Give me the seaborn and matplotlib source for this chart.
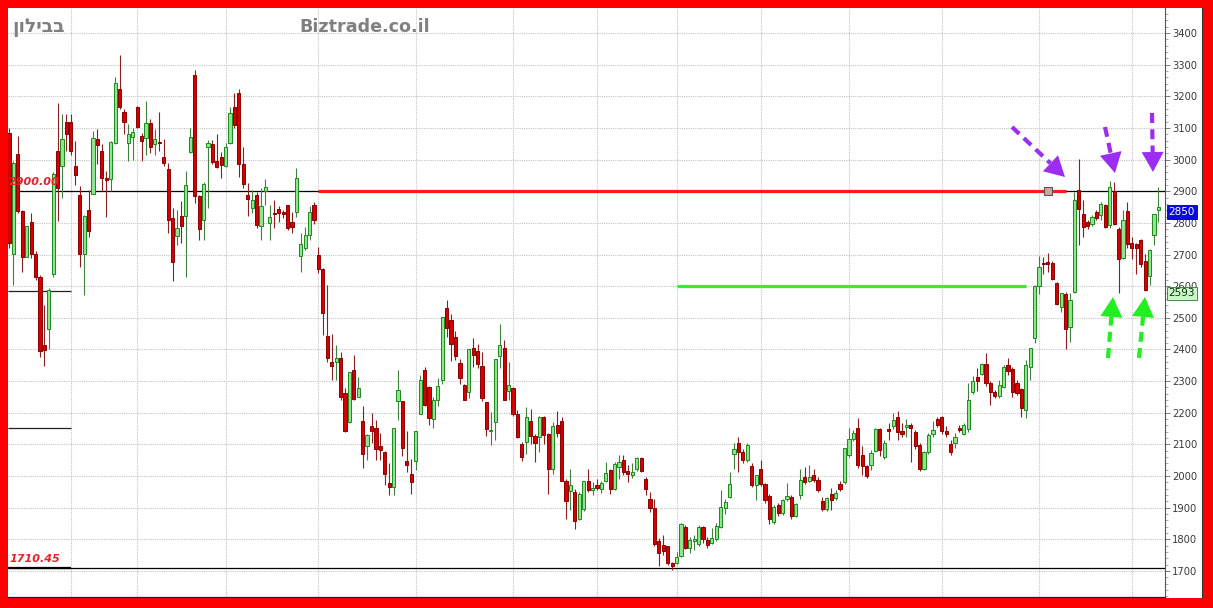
import matplotlib
matplotlib.use("Agg")
import matplotlib.pyplot as plt
from matplotlib.patches import Rectangle, Polygon
from matplotlib.lines import Line2D
import numpy as np
import pandas as pd
import seaborn as sns

# OHLC, one entry per daily candle
opens = [3085, 2701, 3018, 2837, 2692, 2803, 2701, 2630, 2413, 2466, 2638, 3027, 2979, 3119, 3119, 2979, 2889, 2701, 2842, 2892,
         3064, 3027, 2942, 2939, 3053, 3223, 3149, 3053, 3071, 3167, 3075, 3069, 3117, 3048, 3055, 3008, 2971, 2815, 2759, 2821,
         2821, 3025, 3267, 2884, 2809, 3039, 3050, 2996, 3007, 2980, 3052, 3165, 3210, 2986, 2888, 2846, 2888, 2790, 2902, 2801,
         2831, 2843, 2833, 2855, 2804, 2836, 2696, 2722, 2762, 2857, 2699, 2654, 2443, 2359, 2362, 2374, 2262, 2170, 2336, 2251,
         2175, 2096, 2157, 2151, 2096, 2075, 1978, 1967, 2236, 2236, 2048, 2007, 2047, 2195, 2336, 2281, 2181, 2241, 2304, 2532,
         2494, 2441, 2357, 2289, 2265, 2405, 2394, 2349, 2234, 2142, 2170, 2381, 2405, 2268, 2279, 2197, 2100, 2107, 2173, 2128,
         2125, 2186, 2134, 2023, 2163, 2174, 1986, 1952, 1949, 1863, 1897, 1984, 1957, 1973, 1960, 1984, 2020, 1960, 2030, 2051,
         2017, 2003, 2021, 2058, 1990, 1929, 1900, 1796, 1781, 1779, 1724, 1724, 1747, 1840, 1772, 1795, 1787, 1840, 1798, 1789,
         1800, 1840, 1898, 1935, 2070, 2105, 2077, 2050, 2032, 1972, 2021, 1975, 1937, 1856, 1908, 1884, 1929, 1935, 1874, 1940,
         1998, 1984, 2003, 1989, 1922, 1895, 1945, 1930, 1976, 1980, 2067, 2117, 2152, 2067, 2031, 2036, 2078, 2148, 2060, 2148,
         2157, 2188, 2144, 2154, 2162, 2138, 2097, 2022, 2075, 2133, 2180, 2186, 2141, 2102, 2106, 2151, 2134, 2148, 2267, 2313,
         2323, 2355, 2294, 2267, 2252, 2283, 2352, 2338, 2294, 2275, 2209, 2346, 2436, 2600, 2673, 2678, 2672, 2611, 2533, 2575,
         2472, 2582, 2905, 2827, 2803, 2796, 2835, 2824, 2856, 2793, 2900, 2782, 2690, 2837, 2735, 2733, 2747, 2680, 2632, 2761,
         2840]
highs = [3100, 2995, 3075, 2840, 2789, 2831, 2710, 2635, 2540, 2593, 2960, 3180, 3143, 3143, 3143, 3059, 2916, 2826, 2905, 3090,
         3096, 3048, 2963, 3059, 3260, 3329, 3159, 3112, 3101, 3170, 3085, 3186, 3127, 3096, 3149, 3064, 2990, 2847, 2842, 2868,
         2963, 3101, 3283, 2889, 2930, 3062, 3062, 3081, 3025, 3052, 3167, 3210, 3222, 3039, 2927, 2904, 2899, 2910, 2938, 2857,
         2873, 2852, 2841, 2857, 2836, 2973, 2767, 2788, 2854, 2867, 2725, 2657, 2604, 2449, 2415, 2393, 2278, 2330, 2383, 2314,
         2220, 2132, 2199, 2178, 2135, 2078, 2041, 2151, 2336, 2236, 2141, 2055, 2142, 2318, 2344, 2286, 2249, 2310, 2504, 2557,
         2511, 2460, 2371, 2292, 2402, 2437, 2416, 2392, 2234, 2202, 2371, 2481, 2431, 2360, 2281, 2209, 2107, 2218, 2213, 2134,
         2191, 2191, 2136, 2171, 2207, 2186, 1992, 2023, 1960, 1949, 1986, 2023, 1981, 1992, 1986, 2044, 2023, 2044, 2066, 2066,
         2035, 2040, 2061, 2061, 1998, 1951, 1929, 1803, 1814, 1779, 1730, 1761, 1851, 1845, 1808, 1814, 1845, 1842, 1808, 1835,
         1851, 1956, 1929, 2014, 2103, 2122, 2087, 2103, 2040, 2003, 2050, 1977, 1945, 1908, 1914, 1929, 1977, 1940, 1914, 2021,
         2030, 2035, 2024, 1998, 1935, 1935, 1961, 1957, 1983, 2088, 2152, 2146, 2183, 2094, 2036, 2083, 2152, 2152, 2115, 2167,
         2199, 2207, 2167, 2180, 2167, 2146, 2104, 2078, 2136, 2173, 2188, 2190, 2157, 2115, 2136, 2162, 2169, 2294, 2315, 2341,
         2357, 2389, 2299, 2272, 2304, 2352, 2373, 2346, 2304, 2278, 2367, 2404, 2605, 2696, 2693, 2704, 2680, 2614, 2579, 2582,
         2577, 2898, 3003, 2872, 2808, 2824, 2840, 2866, 2859, 2932, 2929, 2787, 2840, 2866, 2756, 2735, 2750, 2701, 2719, 2829,
         2912]
lows = [2720, 2604, 2830, 2646, 2692, 2690, 2620, 2376, 2348, 2403, 2630, 2805, 2879, 3027, 3016, 2921, 2662, 2572, 2757, 2890,
        2985, 2900, 2820, 2900, 3050, 3159, 3080, 2995, 3000, 3100, 2995, 3016, 3022, 3016, 3027, 2979, 2768, 2616, 2731, 2736,
        2628, 3020, 2863, 2747, 2746, 2846, 2985, 2973, 2941, 2978, 3050, 3100, 2946, 2909, 2822, 2830, 2783, 2746, 2857, 2746,
        2783, 2804, 2815, 2778, 2767, 2820, 2646, 2715, 2746, 2795, 2641, 2446, 2362, 2304, 2304, 2240, 2140, 2168, 2240, 2249,
        2025, 2050, 2104, 2050, 2050, 1973, 1941, 1941, 2178, 2062, 2014, 1942, 2018, 2195, 2220, 2160, 2152, 2223, 2292, 2439,
        2363, 2367, 2292, 2239, 2247, 2346, 2340, 2237, 2128, 2097, 2113, 2342, 2239, 2239, 2190, 2120, 2049, 2070, 2100, 2044,
        2076, 2100, 1944, 2007, 2125, 1984, 1865, 1892, 1834, 1860, 1890, 1950, 1939, 1955, 1946, 1980, 1944, 1955, 1990, 2005,
        1982, 1995, 2015, 2012, 1940, 1886, 1780, 1716, 1751, 1719, 1703, 1721, 1745, 1770, 1756, 1767, 1780, 1790, 1772, 1785,
        1795, 1835, 1880, 1930, 2024, 2014, 2040, 2045, 1966, 1924, 1970, 1915, 1848, 1850, 1875, 1878, 1920, 1865, 1870, 1929,
        1975, 1980, 1982, 1951, 1890, 1890, 1894, 1925, 1952, 1975, 2060, 2110, 2025, 2004, 1994, 2020, 2075, 2062, 2055, 2115,
        2150, 2115, 2125, 2125, 2046, 2085, 2015, 2018, 2070, 2125, 2155, 2134, 2125, 2067, 2090, 2140, 2130, 2140, 2260, 2270,
        2318, 2286, 2225, 2248, 2246, 2278, 2320, 2250, 2255, 2188, 2183, 2304, 2420, 2575, 2640, 2646, 2620, 2540, 2519, 2403,
        2424, 2577, 2729, 2756, 2780, 2791, 2810, 2810, 2785, 2785, 2793, 2579, 2685, 2720, 2687, 2640, 2660, 2585, 2603, 2730,
        2803]
closes = [2736, 2990, 2837, 2692, 2789, 2701, 2630, 2394, 2397, 2588, 2953, 2911, 3066, 3080, 3027, 2950, 2701, 2823, 2773, 3069,
          3045, 2942, 2937, 3055, 3241, 3165, 3119, 3080, 3087, 3103, 3059, 3117, 3040, 3066, 3053, 2990, 2810, 2678, 2784, 2791,
          2921, 3071, 2884, 2781, 2923, 3052, 2991, 2978, 2983, 3041, 3146, 3110, 2986, 2923, 2875, 2873, 2794, 2854, 2915, 2818,
          2827, 2831, 2827, 2783, 2786, 2941, 2733, 2762, 2836, 2809, 2654, 2515, 2372, 2348, 2372, 2251, 2144, 2328, 2243, 2278,
          2070, 2130, 2141, 2086, 2083, 2008, 1967, 2151, 2273, 2088, 2035, 1981, 2142, 2304, 2226, 2184, 2241, 2286, 2504, 2468,
          2418, 2378, 2311, 2241, 2402, 2384, 2353, 2247, 2149, 2145, 2371, 2413, 2241, 2289, 2197, 2123, 2060, 2186, 2128, 2104,
          2186, 2131, 2021, 2157, 2136, 1986, 1921, 1971, 1858, 1944, 1984, 1957, 1960, 1963, 1978, 2009, 1960, 2039, 2045, 2014,
          2006, 2012, 2058, 2017, 1958, 1898, 1787, 1758, 1763, 1724, 1716, 1745, 1848, 1772, 1798, 1800, 1840, 1800, 1782, 1803,
          1843, 1903, 1919, 1975, 2087, 2077, 2050, 2098, 1972, 2003, 1975, 1924, 1863, 1903, 1884, 1924, 1937, 1874, 1911, 1987,
          1982, 1998, 1989, 1956, 1895, 1930, 1924, 1948, 1959, 2088, 2117, 2136, 2036, 2031, 1999, 2073, 2148, 2083, 2106, 2141,
          2178, 2138, 2134, 2162, 2152, 2094, 2022, 2075, 2131, 2146, 2162, 2141, 2133, 2075, 2123, 2146, 2162, 2241, 2299, 2302,
          2355, 2294, 2267, 2254, 2288, 2346, 2331, 2267, 2264, 2215, 2352, 2404, 2600, 2662, 2669, 2670, 2624, 2545, 2577, 2466,
          2556, 2872, 2845, 2787, 2789, 2819, 2817, 2859, 2787, 2914, 2798, 2687, 2810, 2733, 2722, 2722, 2669, 2589, 2714, 2829,
          2850]

price_ticks = list(range(1700, 3500, 100))
month_breaks = [14, 29, 49, 70, 92, 114, 133, 151, 170, 190, 211, 233, 254]
level_top = 2900.00
level_low = 1710.45
left_levels = [2585, 2153]
resistance = 2900
support = 2600
last_price = 2850
mark_price = 2593
name_he = "בבילון"
site = "Biztrade.co.il"

# annotation arrows in image pixels: (start, tip)
purple_arrows = [((1012, 127), (1065, 177)), ((1105, 127), (1115, 173)), ((1152, 113), (1153, 172))]
green_arrows = [((1108, 358), (1113, 297)), ((1139, 358), (1145, 297))]

df = pd.DataFrame({"open": opens, "high": highs, "low": lows, "close": closes})
df["i"] = np.arange(len(df))
df["up"] = df["close"] >= df["open"]
df["bottom"] = df[["open", "close"]].min(axis=1)
df["height"] = (df["close"] - df["open"]).abs().clip(lower=4)

sns.set_theme(style="white")
plt.rcParams["font.family"] = ["DejaVu Sans"]

W, H = 1213, 608
fig = plt.figure(figsize=(W / 100, H / 100), dpi=100, facecolor="#ff0000")
fig.patches.append(Rectangle((8 / W, 10 / H), 1194 / W, 590 / H, transform=fig.transFigure,
                             facecolor="white", edgecolor="none", zorder=-5))
fig.add_artist(Line2D([1202 / W, 1202 / W], [10 / H, 600 / H], color="#333333", lw=0.8))

ax = fig.add_axes([8 / W, 11 / H, 1157 / W, 589 / H])
ax.set_facecolor("white")
ax.set_xlim(-0.23, 261.5)
ax.set_ylim(1618, 3479)

# grid
for v in price_ticks:
    ax.axhline(v, color="#c4c4c4", lw=0.8, ls=(0, (1, 1)), zorder=0)
for m in month_breaks:
    ax.axvline(m, color="#c4c4c4", lw=0.8, ls=(0, (1, 1)), zorder=0)

# reference levels
ax.axhline(level_top, color="black", lw=0.9, zorder=1)
ax.axhline(level_low, color="black", lw=0.9, zorder=1)
ax.hlines(level_low, -0.23, month_breaks[0], color="black", lw=1.6, zorder=1)
ax.hlines(left_levels, -0.23, month_breaks[0], color="#222222", lw=0.9, zorder=1)
ax.hlines(resistance, month_breaks[3], 239, color="#ff1a1a", lw=2.3, zorder=4)
ax.hlines(support, month_breaks[7], 230, color="#33ee33", lw=2.3, zorder=4)
sns.scatterplot(x=[235], y=[resistance], marker="s", s=30, facecolor="#d9a0a0",
                edgecolor="#555555", linewidth=0.8, ax=ax, zorder=5, legend=False)

# candles
up = df[df["up"]]
dn = df[~df["up"]]
ax.vlines(up["i"], up["low"], up["high"], color="#3f7f3f", lw=0.8, zorder=2)
ax.vlines(dn["i"], dn["low"], dn["high"], color="#8b1f1f", lw=0.8, zorder=2)
ax.bar(up["i"], up["height"], bottom=up["bottom"], width=0.72, color="#8ee58e",
       edgecolor="#1c8a1c", linewidth=0.7, zorder=3)
ax.bar(dn["i"], dn["height"], bottom=dn["bottom"], width=0.72, color="#d40000",
       edgecolor="#8b0000", linewidth=0.7, zorder=3)

# right axis
ax.yaxis.tick_right()
ax.set_yticks(price_ticks)
ax.set_yticklabels([str(t) for t in price_ticks])
ax.set_yticks(np.arange(1620, 3480, 20), minor=True)
ax.tick_params(axis="y", which="major", length=3.5, width=0.6, pad=1.5, labelsize=7.2,
               labelcolor="#3a3a3a", color="#666666", right=True)
ax.tick_params(axis="y", which="minor", length=1.8, width=0.5, color="#888888", right=True)
ax.set_xticks([])
for side in ["left", "top"]:
    ax.spines[side].set_visible(False)
ax.spines["right"].set_color("#555555")
ax.spines["right"].set_linewidth(0.8)
ax.spines["bottom"].set_color("#222222")
ax.spines["bottom"].set_linewidth(0.9)

# level texts, drawn over the candles
ax.text(0.0, level_top + 12, f"{level_top:.2f}", color="#e8202a", fontsize=8, fontweight="bold",
        style="italic", va="bottom", ha="left", zorder=3.5)
ax.text(0.0, level_low + 12, f"{level_low:.2f}", color="#e8202a", fontsize=8, fontweight="bold",
        style="italic", va="bottom", ha="left", zorder=3.5)

# price boxes on the axis
ytr = ax.get_yaxis_transform()
ax.text(1.003, last_price, str(last_price), transform=ytr, ha="left", va="top", fontsize=7.5,
        color="white", clip_on=False, zorder=10,
        bbox=dict(boxstyle="square,pad=0.18", facecolor="#0a0adc", edgecolor="#000088", lw=0.6))
ax.text(1.003, mark_price, str(mark_price), transform=ytr, ha="left", va="top", fontsize=7.5,
        color="#113311", clip_on=False, zorder=10,
        bbox=dict(boxstyle="square,pad=0.18", facecolor="#c8f7c8", edgecolor="#2a7a2a", lw=0.6))

# header texts (Hebrew reversed since matplotlib has no bidi)
fig.text(12 / W, (H - 32) / H, name_he[::-1], fontsize=13.5, fontweight="bold", color="#7f7f7f",
         va="baseline", ha="left")
fig.text(299 / W, (H - 32) / H, site, fontsize=12.6, fontweight="bold", color="#808080",
         va="baseline", ha="left")


def draw_arrow(start, tip, color):
    p0 = np.array([start[0], H - start[1]], dtype=float)
    p1 = np.array([tip[0], H - tip[1]], dtype=float)
    d = (p1 - p0) / np.linalg.norm(p1 - p0)
    n = np.array([-d[1], d[0]])
    base = p1 - 20 * d
    fig.add_artist(Line2D([p0[0] / W, base[0] / W], [p0[1] / H, base[1] / H], color=color,
                          lw=3.0, ls=(0, (2.4, 1.5)), solid_capstyle="butt", zorder=20))
    pts = [p1, base + 11 * n, base - 11 * n]
    fig.add_artist(Polygon([(x / W, y / H) for x, y in pts], closed=True, transform=fig.transFigure,
                           facecolor=color, edgecolor="none", zorder=21))


for s, t in purple_arrows:
    draw_arrow(s, t, "#9b2ef2")
for s, t in green_arrows:
    draw_arrow(s, t, "#22ee22")

fig.savefig("out.png", dpi=100, facecolor=fig.get_facecolor())
